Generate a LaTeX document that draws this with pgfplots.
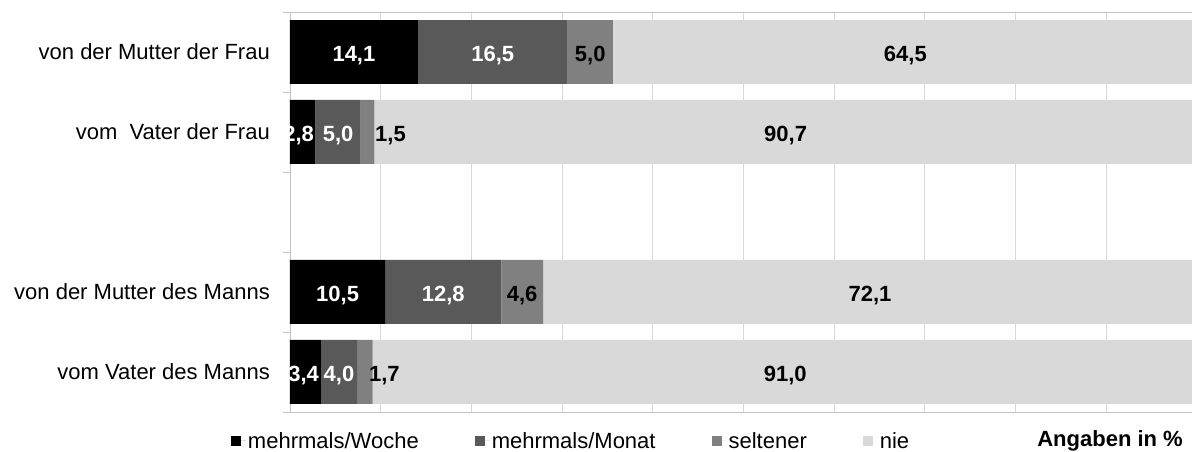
\documentclass[border=0pt]{standalone}
\usepackage{pgfplots}
\pgfplotsset{compat=1.18}
\usepackage{pgfplotstable}
\usepackage{fontspec}
\setmainfont{Liberation Sans}
\definecolor{cW}{HTML}{000000}
\definecolor{cM}{HTML}{595959}
\definecolor{cS}{HTML}{808080}
\definecolor{cN}{HTML}{D9D9D9}
\definecolor{gridc}{HTML}{D9D9D9}
\definecolor{axc}{HTML}{C4C4C4}

% y = row, x = value, off = label offset from segment centre (axis units)
\pgfplotstableread{
y x off
4 14.1 0
3 2.8 -0.45
1 10.5 0
0 3.4 -0.2
}\woche
\pgfplotstableread{
y x off
4 16.5 0
3 5.0 0
1 12.8 0
0 4.0 0
}\monat
\pgfplotstableread{
y x off
4 5.0 0
3 1.5 2.53
1 4.6 0
0 1.7 2.16
}\selten
\pgfplotstableread{
y x off
4 64.5 0
3 90.7 0
1 72.1 0
0 91.0 0
}\nie

\begin{document}
\begin{tikzpicture}
\clip (-290pt,-40pt) rectangle (902pt,412pt);
\begin{axis}[
  name=ax, at={(0pt,0pt)}, anchor=south west,
  scale only axis, width=911.5pt, height=400pt,
  xbar stacked, bar width=0.8,
  xmin=0, xmax=100.5, ymin=-0.5, ymax=4.5,
  axis x line*=box, axis y line*=left,
  axis line style={draw=axc, line width=0.8pt},
  xtick={0,10,...,90}, xticklabels={},
  xmajorgrids, grid style={draw=gridc, line width=0.9pt},
  ytick={0,1,3,4},
  yticklabels={vom Vater des Manns, von der Mutter des Manns, vom\ \ Vater der Frau, von der Mutter der Frau},
  minor ytick={-0.5,0.5,1.5,2.5,3.5,4.5},
  tick align=outside, major tick length=0pt, minor tick length=7pt,
  minor tick style={draw=axc, line width=0.8pt},
  yticklabel style={font=\fontsize{22}{26}\selectfont, inner sep=0pt, xshift=-20pt, anchor=base east, yshift=-8pt},
  point meta=\thisrow{x},
  visualization depends on={\thisrow{off} \as \off},
  nodes near coords={\pgfmathprintnumber[fixed,fixed zerofill,precision=1,use comma,assume math mode=true]{\pgfplotspointmeta}},
  every node near coord/.append style={anchor=base, xshift=\off*9.07pt, yshift=-9.6pt, inner sep=0pt, font=\fontsize{22}{26}\selectfont\bfseries},
  legend columns=4,
  legend style={draw=none, fill=none, inner sep=0pt, outer sep=0pt,
    at={(rel axis cs:0,0)}, anchor=west, xshift=-59pt, yshift=-29pt,
    font=\fontsize{22}{26}\selectfont,
    /tikz/every even column/.append style={column sep=54pt}},
  legend cell align=left,
  legend image code/.code={\fill[#1] (0pt,-5pt) rectangle (10pt,5pt); \path (0pt,0pt) -- (15pt,0pt);},
]
\addplot+[fill=cW, draw=none, every node near coord/.append style={text=white}] table[x=x, y=y] {\woche};
\addlegendentry{mehrmals/Woche}
\addplot+[fill=cM, draw=none, every node near coord/.append style={text=white}] table[x=x, y=y] {\monat};
\addlegendentry{mehrmals/Monat}
\addplot+[fill=cS, draw=none, every node near coord/.append style={text=black}] table[x=x, y=y] {\selten};
\addlegendentry{seltener}
\addplot+[fill=cN, draw=none, every node near coord/.append style={text=black}] table[x=x, y=y] {\nie};
\addlegendentry{nie}
\end{axis}
\node[anchor=east, inner sep=0pt, font=\fontsize{22}{26}\selectfont\bfseries] at ([xshift=893pt, yshift=-29pt]ax.south west) {Angaben in \%};
\end{tikzpicture}
\end{document}
